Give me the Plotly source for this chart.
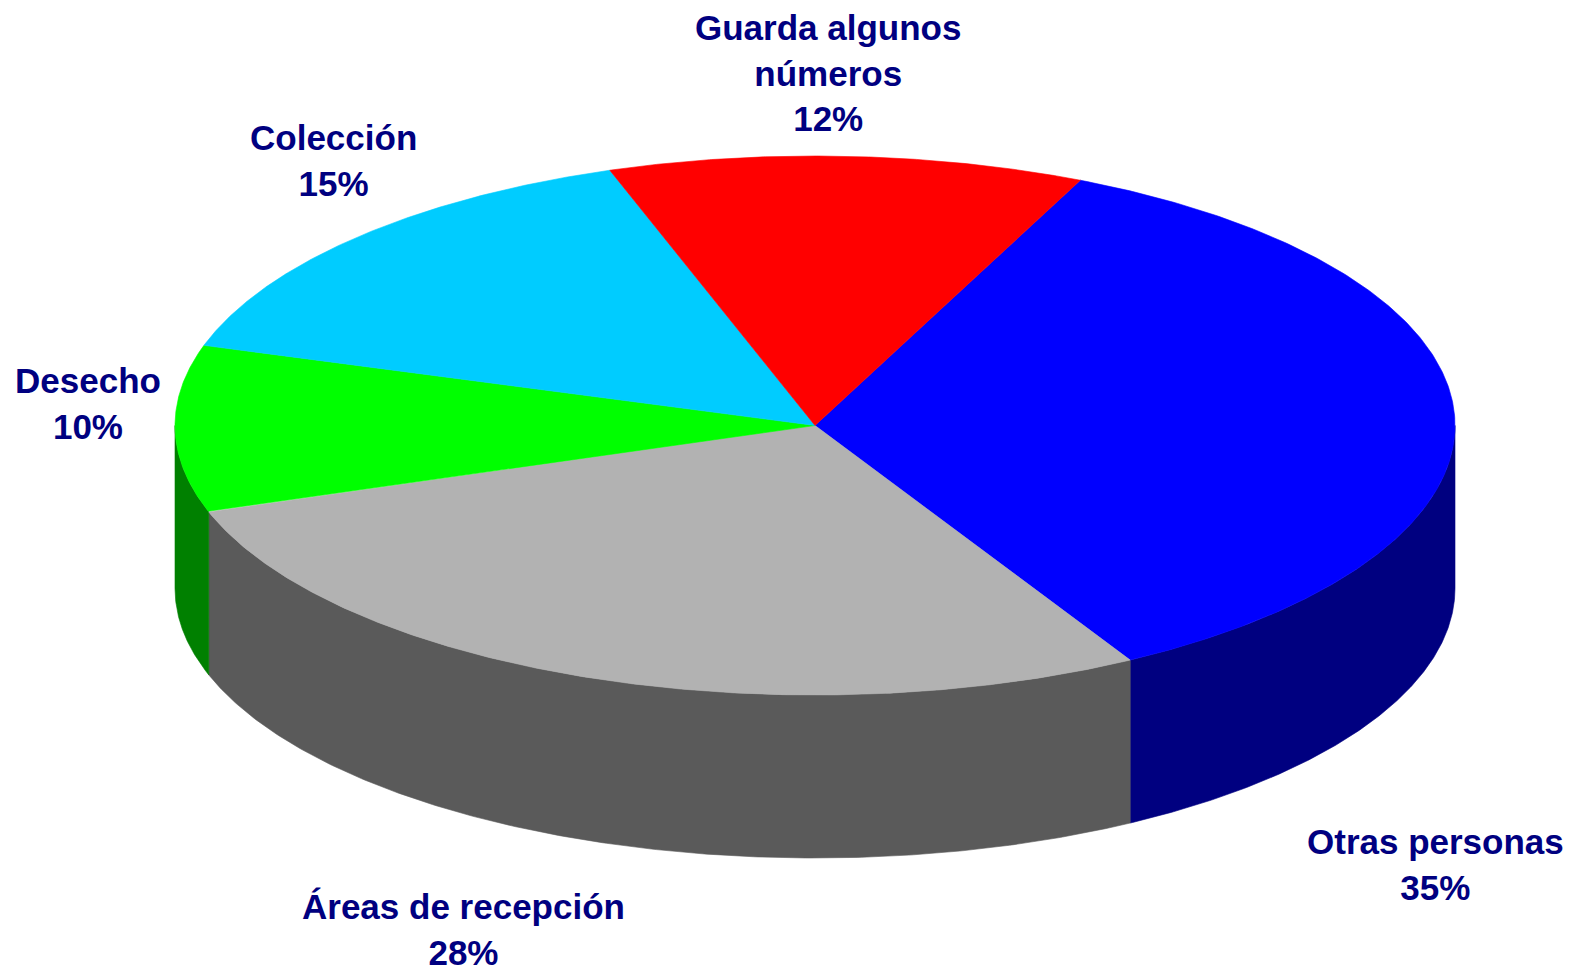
import numpy as np
import plotly.graph_objects as go

# ---- data ----
categories = ["Otras personas", "Áreas de recepción", "Desecho", "Colección", "Guarda algunos números"]
label_text = ["Otras personas", "Áreas de recepción", "Desecho", "Colección", "Guarda algunos<br>números"]
values = [35, 28, 10, 15, 12]
top_colors = ["#0000FF", "#B2B2B2", "#00FF00", "#00CCFF", "#FF0000"]
side_colors = ["#000080", "#5A5A5A", "#008000", "#0099BF", "#BF0000"]

# ---- layout geometry (pixel space) ----
W, H = 1575, 972
OFF = 8  # page body margin compensation
CX, CY = 815, 425.5
RX, RY = 640, 269.5
DEPTH = 163
START = 65.5  # degrees, slices go clockwise
label_pos = [(1435, 864), (463, 929), (88, 403), (333, 160), (828, 73)]

total = float(sum(values))


def arc(a, b, n=240, dy=0.0):
    t = np.radians(np.linspace(a, b, n))
    return CX + RX * np.cos(t), CY - RY * np.sin(t) + dy


fig = go.Figure()

# slice angle ranges
ranges = []
ang = START
for v in values:
    span = 360.0 * v / total
    ranges.append((ang, ang - span))
    ang -= span

# side walls (front half only: angles in (-180, 0) + 360k)
for (a, b), sc in zip(ranges, side_colors):
    for k in (-1, 0, 1):
        lo, hi = -180 + 360 * k, 0 + 360 * k
        s_hi = min(a, hi)
        s_lo = max(b, lo)
        if s_hi > s_lo:
            xt, yt = arc(s_hi, s_lo)
            xb, yb = arc(s_lo, s_hi, dy=DEPTH)
            xs = np.concatenate([xt, xb, xt[:1]])
            ys = np.concatenate([yt, yb, yt[:1]])
            fig.add_trace(go.Scatter(x=xs, y=ys, mode="lines", fill="toself",
                                     fillcolor=sc, line=dict(color=sc, width=0.6),
                                     hoverinfo="skip", showlegend=False))

# top faces
for (a, b), c in zip(ranges, top_colors):
    xa, ya = arc(a, b)
    xs = np.concatenate([[CX], xa, [CX]])
    ys = np.concatenate([[CY], ya, [CY]])
    fig.add_trace(go.Scatter(x=xs, y=ys, mode="lines", fill="toself",
                             fillcolor=c, line=dict(color=c, width=0.6),
                             hoverinfo="skip", showlegend=False))

# labels
for txt, v, (lx, ly) in zip(label_text, values, label_pos):
    pct = round(100 * v / total)
    fig.add_annotation(x=lx, y=ly, xref="x", yref="y",
                       text=f"{txt}<br>{pct}%", showarrow=False,
                       xanchor="center", yanchor="middle", align="center",
                       font=dict(family="Liberation Sans, Arial, sans-serif",
                                 size=35, color="#000080", weight="bold"))

fig.update_layout(
    width=W, height=H,
    margin=dict(l=0, r=0, t=0, b=0),
    paper_bgcolor="white", plot_bgcolor="white",
    xaxis=dict(range=[OFF, W + OFF], visible=False, fixedrange=True),
    yaxis=dict(range=[H + OFF, OFF], visible=False, fixedrange=True),
    showlegend=False,
)

fig.write_html("out.html")
